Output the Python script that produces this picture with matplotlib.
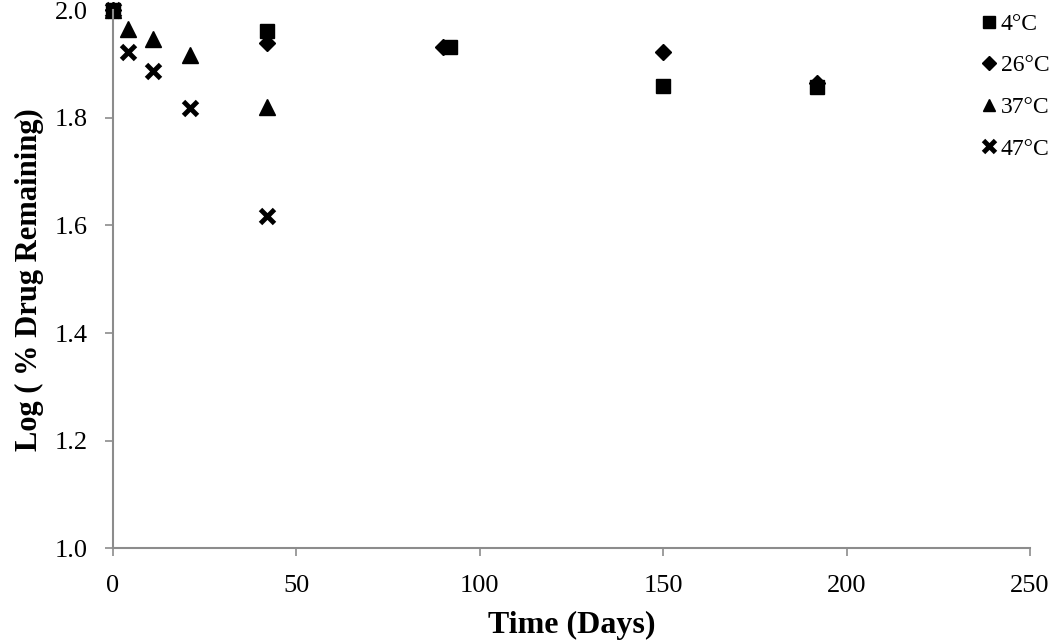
import matplotlib.pyplot as plt

plt.rcParams['font.family'] = ['Liberation Serif', 'DejaVu Serif']

# days, log(% drug remaining)
t_4 = [0, 42, 92, 150, 192]
y_4 = [2.0, 1.962, 1.931, 1.860, 1.858]

t_26 = [0, 42, 90, 150, 192]
y_26 = [2.0, 1.939, 1.931, 1.922, 1.864]

t_37 = [0, 4, 11, 21, 42]
y_37 = [2.0, 1.965, 1.946, 1.916, 1.820]

t_47 = [0, 4, 11, 21, 42]
y_47 = [2.0, 1.922, 1.888, 1.818, 1.617]

fig, ax = plt.subplots(figsize=(10.5, 6.42), dpi=100)
fig.subplots_adjust(left=0.1076, right=0.981, top=0.984, bottom=0.146)

ax.plot(t_4, y_4, 's', color='black', ms=10, ls='none', label='4°C', clip_on=False)
ax.plot(t_26, y_26, 'D', color='black', ms=8, ls='none', label='26°C', clip_on=False)
ax.plot(t_37, y_37, '^', color='black', ms=11, ls='none', label='37°C', clip_on=False)
ax.plot(t_47, y_47, 'x', color='black', ms=10, mew=3.5, ls='none', label='47°C', clip_on=False)

ax.set_xlim(0, 250)
ax.set_ylim(1.0, 2.0)
ax.set_xticks(range(0, 251, 50))
ax.set_yticks([1.0, 1.2, 1.4, 1.6, 1.8, 2.0])
ax.set_yticklabels(['1.0', '1.2', '1.4', '1.6', '1.8', '2.0'])

for s in ['top', 'right']:
    ax.spines[s].set_visible(False)
for s in ['left', 'bottom']:
    ax.spines[s].set_color('#8c8c8c')
    ax.spines[s].set_linewidth(1.5)
ax.tick_params(colors='#8c8c8c', labelcolor='black', labelsize=19, length=6, width=1.2,
               direction='out')
ax.tick_params(axis='x', pad=13)
ax.tick_params(axis='y', pad=12)

ax.set_xlabel('Time (Days)', fontsize=23, fontweight='bold', labelpad=10)
ax.set_ylabel('Log ( % Drug Remaining)', fontsize=22, fontweight='bold', labelpad=8)

leg = ax.legend(loc='upper left', bbox_to_anchor=(0.937, 1.012), frameon=False,
                fontsize=17, handlelength=0.6, handletextpad=0.2, labelspacing=0.85,
                borderaxespad=0, markerscale=0.85)

fig.savefig('out.png')
